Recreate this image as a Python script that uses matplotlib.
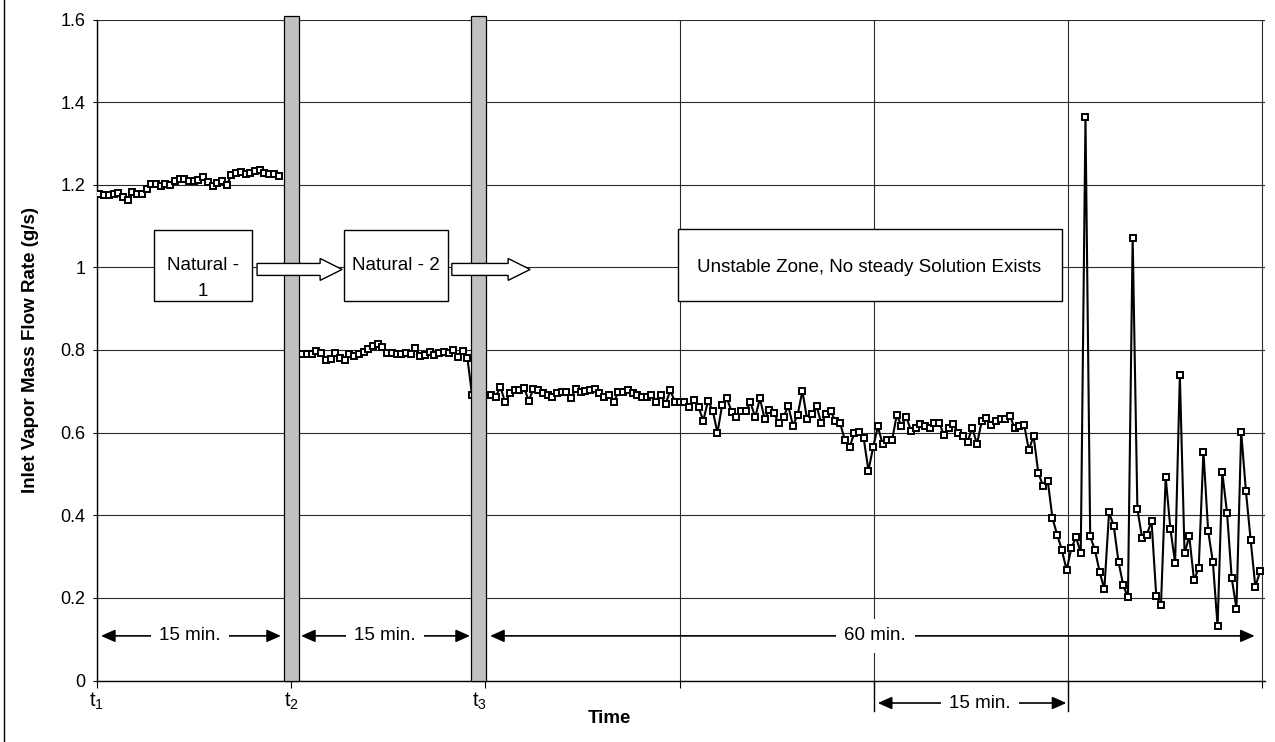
import numpy as np
import matplotlib
matplotlib.use("Agg")
import matplotlib.pyplot as plt
from matplotlib.patches import Rectangle, FancyArrow
from matplotlib.lines import Line2D

plt.rcParams['font.family'] = ['Liberation Sans', 'DejaVu Sans']
plt.rcParams['mathtext.fontset'] = 'custom'
plt.rcParams['mathtext.rm'] = 'Liberation Sans'
plt.rcParams['mathtext.it'] = 'Liberation Sans:italic'

# ---------------- data (g/s) ----------------
natural1 = [1.177, 1.176, 1.176, 1.177, 1.180, 1.170, 1.162, 1.182, 1.177, 1.177,
            1.190, 1.201, 1.202, 1.198, 1.202, 1.200, 1.209, 1.215, 1.215, 1.208,
            1.208, 1.212, 1.219, 1.206, 1.198, 1.205, 1.210, 1.200, 1.223, 1.228,
            1.231, 1.225, 1.228, 1.233, 1.235, 1.228, 1.227, 1.225, 1.221]
gap_t2 = 4  # samples hidden behind the switch-over bar at t2
natural2 = [0.790, 0.790, 0.790, 0.798, 0.792, 0.776, 0.779, 0.792, 0.781, 0.776,
            0.790, 0.785, 0.790, 0.794, 0.803, 0.810, 0.814, 0.808, 0.792, 0.792,
            0.790, 0.790, 0.792, 0.790, 0.806, 0.785, 0.787, 0.795, 0.787, 0.792,
            0.794, 0.792, 0.800, 0.784, 0.797, 0.781]
unstable = [0.690, 0.690, 0.695, 0.690,
            0.691, 0.687, 0.711, 0.673, 0.695, 0.702, 0.703, 0.709, 0.677, 0.706,
            0.702, 0.697, 0.692, 0.686, 0.695, 0.698, 0.698, 0.685, 0.706, 0.698,
            0.701, 0.703, 0.706, 0.695, 0.687, 0.692, 0.673, 0.698, 0.699, 0.702,
            0.695, 0.691, 0.687, 0.686, 0.692, 0.675, 0.691, 0.669, 0.702, 0.675,
            0.675, 0.673, 0.661, 0.679, 0.661, 0.629, 0.677, 0.653, 0.600, 0.667,
            0.683, 0.651, 0.637, 0.653, 0.653, 0.673, 0.637, 0.683, 0.633, 0.655,
            0.647, 0.623, 0.637, 0.665, 0.617, 0.643, 0.701, 0.633, 0.645, 0.665,
            0.623, 0.645, 0.653, 0.627, 0.623, 0.582, 0.564, 0.600, 0.602, 0.586,
            0.508, 0.565,
            0.615, 0.572, 0.581, 0.581, 0.643, 0.616, 0.639, 0.605, 0.610, 0.621,
            0.617, 0.610, 0.624, 0.624, 0.594, 0.610, 0.621, 0.600, 0.592, 0.577,
            0.612, 0.572, 0.627, 0.635, 0.619, 0.629, 0.632, 0.632, 0.640, 0.610,
            0.615, 0.619, 0.558, 0.592, 0.503, 0.471, 0.484, 0.393,
            0.353, 0.316, 0.267, 0.320, 0.347, 0.308, 1.363, 0.349, 0.316, 0.263,
            0.221, 0.407, 0.374, 0.287, 0.231, 0.201, 1.072, 0.415, 0.345, 0.353,
            0.386, 0.205, 0.182, 0.492, 0.367, 0.285, 0.739, 0.308, 0.349, 0.243,
            0.272, 0.554, 0.362, 0.287, 0.131, 0.504, 0.406, 0.247, 0.174, 0.602,
            0.459, 0.341, 0.227, 0.264]

y_ticks = [0.0, 0.2, 0.4, 0.6, 0.8, 1.0, 1.2, 1.4, 1.6]
y_tick_labels = ['0', '0.2', '0.4', '0.6', '0.8', '1', '1.2', '1.4', '1.6']
time_ticks = [0, 15, 30, 45, 60, 75, 90]          # minutes
time_labels = [r'$\mathrm{t}_{1}$', r'$\mathrm{t}_{2}$', r'$\mathrm{t}_{3}$']
time_label_pos = [0.0, 15.0, 29.5]
switch_bars = [15.0, 29.45]                        # grey switch-over bars
total_minutes = 90.0

flow = np.array(natural1 + [np.nan] * gap_t2 + natural2 + unstable)
n = len(flow)
t = (np.arange(n) + 0.5) * total_minutes / n

# ---------------- figure ----------------
W, H = 1275, 742
fig = plt.figure(figsize=(W / 100, H / 100), dpi=100)
L, R, T, B = 97, 1265, 19.5, 680.5
ax = fig.add_axes([L / W, 1 - B / H, (R - L) / W, (B - T) / H])
ax.set_xlim(0, 90.2)
ax.set_ylim(0, 1.6)

gridc = '#2a2a2a'
ax.set_yticks(y_ticks)
ax.set_yticklabels(y_tick_labels, fontsize=13)
ax.set_xticks(time_ticks)
ax.set_xticklabels([])
ax.grid(True, color=gridc, lw=0.8)
ax.set_axisbelow(True)
for s in ['top', 'right']:
    ax.spines[s].set_visible(False)
for s in ['left', 'bottom']:
    ax.spines[s].set_color('black')
    ax.spines[s].set_linewidth(1.0)
ax.tick_params(axis='y', direction='out', length=3, width=0.8, pad=5.5)
ax.tick_params(axis='x', direction='out', length=5, width=0.8)

# data line
ax.plot(t, flow, color='black', lw=1.5, marker='s', ms=3.8, mfc='white',
        mec='black', mew=1.4, zorder=3)

# grey switch-over bars
bar_w = 1.16
for c in switch_bars:
    ax.add_patch(Rectangle((c - bar_w / 2, 0), bar_w, 1.608, fc='#c0c0c0',
                           ec='black', lw=0.9, zorder=4, clip_on=False))

# boxes
def box(x0, x1, y0, y1):
    ax.add_patch(Rectangle((x0, y0), x1 - x0, y1 - y0, fc='white', ec='black',
                           lw=1.0, zorder=6))

box(4.40, 11.97, 0.9187, 1.0905)
ax.text(8.2, 1.0036, 'Natural -', ha='center', va='center', fontsize=13.5, zorder=7)
ax.text(8.2, 0.941, '1', ha='center', va='center', fontsize=13.5, zorder=7)
box(19.08, 27.12, 0.9187, 1.0905)
ax.text(23.1, 1.0036, 'Natural - 2', ha='center', va='center', fontsize=13.5, zorder=7)
box(44.9, 74.55, 0.9187, 1.0929)
ax.text(59.6, 1.0, 'Unstable Zone, No steady Solution Exists', ha='center',
        va='center', fontsize=13.5, zorder=7)

# block arrows
for x0, x1 in [(12.36, 18.93), (27.40, 33.45)]:
    ax.add_patch(FancyArrow(x0, 0.995, x1 - x0, 0, width=0.029, head_width=0.053,
                            head_length=1.70, length_includes_head=True,
                            fc='white', ec='black', lw=1.0, zorder=6))

# interval dimension arrows
def dim(x0, x1, y, xt, label):
    ax.annotate('', xy=(x1, y), xytext=(x0, y),
                arrowprops=dict(arrowstyle='<|-|>,head_length=0.85,head_width=0.38',
                                color='black', lw=1.2, shrinkA=0, shrinkB=0,
                                mutation_scale=10),
                annotation_clip=False, zorder=5)
    ax.text(xt, y, label, ha='center', va='center', fontsize=13.5, zorder=6,
            clip_on=False,
            bbox=dict(boxstyle='square,pad=0.45', fc='white', ec='none'))

dim(0.31, 14.2, 0.108, 7.2, '15 min.')
dim(15.76, 28.8, 0.108, 22.25, '15 min.')
dim(30.36, 89.4, 0.108, 60.1, '60 min.')
dim(60.3, 74.86, -0.0545, 68.2, '15 min.')
for xv in [60, 75]:
    ax.plot([xv, xv], [0, -0.075], color='black', lw=1.0, clip_on=False, zorder=5)

# time labels
for pos, lab in zip(time_label_pos, time_labels):
    ax.text(pos, -0.05, lab, ha='center', va='center', fontsize=14.5, clip_on=False)
ax.text(39.6, -0.0908, 'Time', ha='center', va='center', fontsize=13.5,
        fontweight='bold', clip_on=False)
ax.text(-67 / 12.978, 0.8, 'Inlet Vapor Mass Flow Rate (g/s)', rotation=90,
        ha='center', va='center', fontsize=13.5, fontweight='bold', clip_on=False)

# chart-area border (left edge)
fig.add_artist(Line2D([4 / W, 4 / W], [0, 1], transform=fig.transFigure,
                      color='black', lw=1.0))

fig.savefig('out.png', dpi=100)
